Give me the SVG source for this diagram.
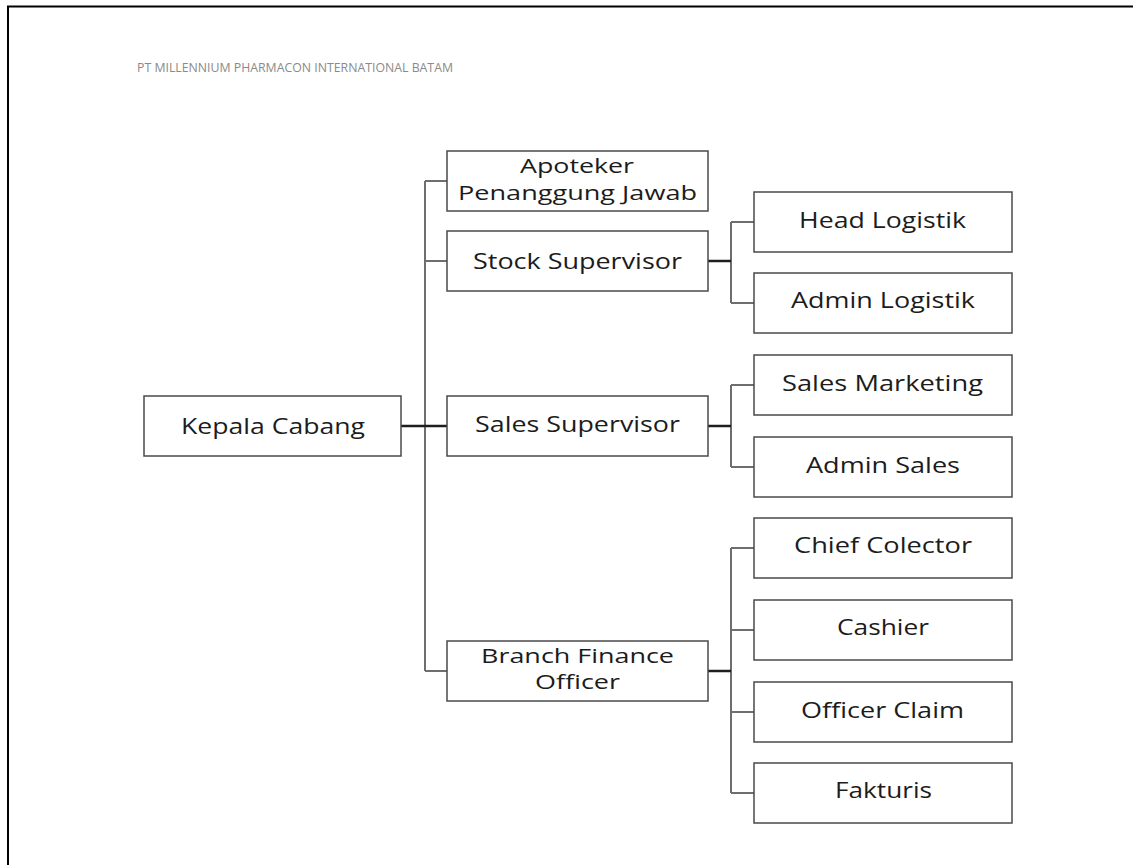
<svg xmlns="http://www.w3.org/2000/svg" width="1133" height="865" viewBox="0 0 1133 865">
<style>
.box{fill:#fff;stroke:#4a4a4a;stroke-width:1.5}
.lbl{font-family:"Open Sans","Liberation Sans",sans-serif;font-size:22px;fill:#1c1c1c}
.lbl2{font-size:20px}
.ln{fill:none;stroke:#6e6e6e;stroke-width:2}
.stub{fill:none;stroke:#1e1e1e;stroke-width:2.5}
.title{font-family:"Open Sans","Liberation Sans",sans-serif;font-size:13px;fill:#8a8a8a}
</style>
<rect width="1133" height="865" fill="#fff"/>
<path d="M8 866 V6.5 H1134" fill="none" stroke="#000" stroke-width="2"/>
<text class="title" x="137" y="72" textLength="316" lengthAdjust="spacingAndGlyphs">PT MILLENNIUM PHARMACON INTERNATIONAL BATAM</text>
<g id="connectors">
<path class="ln" d="M425 181 V671 M425 181 H447 M425 261 H447 M425 671 H447"/>
<path class="stub" d="M401 426 H447"/>
<path class="ln" d="M731 222 V303 M731 222 H754 M731 303 H754"/>
<path class="stub" d="M708 261 H731"/>
<path class="ln" d="M731 385 V467 M731 385 H754 M731 467 H754"/>
<path class="stub" d="M708 426 H731"/>
<path class="ln" d="M731 548 V793 M731 548 H754 M731 630 H754 M731 712 H754 M731 793 H754"/>
<path class="stub" d="M708 671 H731"/>
</g>
<g id="kepala-cabang"><rect class="box" x="144" y="396" width="257" height="60"/><text class="lbl" x="181" y="434" textLength="184" lengthAdjust="spacingAndGlyphs">Kepala Cabang</text></g>
<g id="apoteker"><rect class="box" x="447" y="151" width="261" height="60"/><text class="lbl lbl2" x="520" y="173" textLength="114" lengthAdjust="spacingAndGlyphs">Apoteker</text><text class="lbl lbl2" x="458" y="200" textLength="239" lengthAdjust="spacingAndGlyphs">Penanggung Jawab</text></g>
<g id="stock-supervisor"><rect class="box" x="447" y="231" width="261" height="60"/><text class="lbl" x="473" y="269" textLength="209" lengthAdjust="spacingAndGlyphs">Stock Supervisor</text></g>
<g id="sales-supervisor"><rect class="box" x="447" y="396" width="261" height="60"/><text class="lbl" x="475" y="432" textLength="205" lengthAdjust="spacingAndGlyphs">Sales Supervisor</text></g>
<g id="branch-finance-officer"><rect class="box" x="447" y="641" width="261" height="60"/><text class="lbl lbl2" x="481" y="663" textLength="193" lengthAdjust="spacingAndGlyphs">Branch Finance</text><text class="lbl lbl2" x="535" y="689" textLength="85" lengthAdjust="spacingAndGlyphs">Officer</text></g>
<g id="head-logistik"><rect class="box" x="754" y="192" width="258" height="60"/><text class="lbl" x="799" y="228" textLength="167" lengthAdjust="spacingAndGlyphs">Head Logistik</text></g>
<g id="admin-logistik"><rect class="box" x="754" y="273" width="258" height="60"/><text class="lbl" x="791" y="308" textLength="184" lengthAdjust="spacingAndGlyphs">Admin Logistik</text></g>
<g id="sales-marketing"><rect class="box" x="754" y="355" width="258" height="60"/><text class="lbl" x="782" y="391" textLength="201" lengthAdjust="spacingAndGlyphs">Sales Marketing</text></g>
<g id="admin-sales"><rect class="box" x="754" y="437" width="258" height="60"/><text class="lbl" x="806" y="473" textLength="154" lengthAdjust="spacingAndGlyphs">Admin Sales</text></g>
<g id="chief-colector"><rect class="box" x="754" y="518" width="258" height="60"/><text class="lbl" x="794" y="553" textLength="178" lengthAdjust="spacingAndGlyphs">Chief Colector</text></g>
<g id="cashier"><rect class="box" x="754" y="600" width="258" height="60"/><text class="lbl" x="837" y="635" textLength="92" lengthAdjust="spacingAndGlyphs">Cashier</text></g>
<g id="officer-claim"><rect class="box" x="754" y="682" width="258" height="60"/><text class="lbl" x="801" y="718" textLength="163" lengthAdjust="spacingAndGlyphs">Officer Claim</text></g>
<g id="fakturis"><rect class="box" x="754" y="763" width="258" height="60"/><text class="lbl" x="835" y="798" textLength="97" lengthAdjust="spacingAndGlyphs">Fakturis</text></g>
</svg>
